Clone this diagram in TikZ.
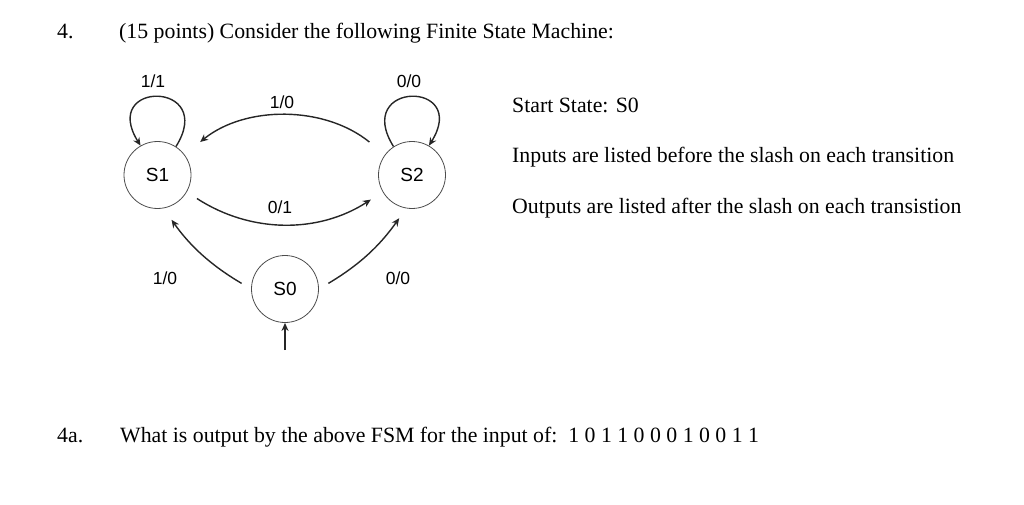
\documentclass[tikz,border=0pt]{standalone}
\usepackage{fontspec}
\setmainfont{Liberation Serif}
\setsansfont{Liberation Sans}
\usetikzlibrary{arrows.meta}
\tikzset{
  fsmstate/.style={draw=black!70, circle, minimum size=67pt, inner sep=0pt, line width=0.8pt,
    font=\sffamily\fontsize{19}{19}\selectfont},
  trans/.style={-{Stealth[length=8pt,width=7pt]}, line width=1.4pt, black!85},
  lbl/.style={inner sep=0pt, font=\sffamily\fontsize{17.5}{17.5}\selectfont},
  txt/.style={anchor=base west, inner sep=0pt, font=\fontsize{21.8}{21.8}\selectfont}
}
\begin{document}
\begin{tikzpicture}[x=1pt,y=-1pt]
                \useasboundingbox (0,0) rectangle (1024,505) ;
                \draw (57,38.3) node[txt] (num) {4.} ;
                \draw (119,38.3) node[txt] (task) {(15 points) Consider the following Finite State Machine:} ;
                \draw (512,112.7) node[txt] (start) {Start State: S0} ;
                \draw (512,162.7) node[txt] (inputs) {Inputs are listed before the slash on each transition} ;
                \draw (512,213) node[txt] (outputs) {Outputs are listed after the slash on each transistion} ;
                \draw (57,442.7) node[txt] (numa) {4a.} ;
                \draw (120,442.7) node[txt] (quest) {What is output by the above FSM for the input of:\ \ 1 0 1 1 0 0 0 1 0 0 1 1} ;
                \node[fsmstate] (s1) at (157.5,175) {S1} ;
                \node[fsmstate] (s2) at (412,175) {S2} ;
                \node[fsmstate] (s0) at (285,289) {S0} ;
                \coordinate (init) at (285,350) ;
                \draw[trans] (s1.57) to[out=58,in=122,looseness=5.6,shorten <=11pt,shorten >=7pt] (s1.120) ;
                \draw[trans] (s2.123) to[out=122,in=58,looseness=5.6,shorten <=11pt,shorten >=7pt] (s2.60) ;
                \draw[trans,shorten <=20pt,shorten >=20pt] (s2.143) to[bend right=39] (s1.37) ;
                \draw[trans,shorten <=12pt,shorten >=14pt] (s1.-30) to[bend right=33] (s2.210) ;
                \draw[trans,shorten <=11pt,shorten >=14pt] (s0.180) to[bend left=12] (s1.280) ;
                \draw[trans,shorten <=11pt,shorten >=12pt] (s0.0) to[bend right=12] (s2.260) ;
                \draw[trans] (init) -- (s0.south) ;
                \draw (153,81) node[lbl] (l11) {1/1} ;
                \draw (409,81) node[lbl] (l00a) {0/0} ;
                \draw (282,102) node[lbl] (l10a) {1/0} ;
                \draw (280,207) node[lbl] (l01) {0/1} ;
                \draw (165,278) node[lbl] (l10b) {1/0} ;
                \draw (398,278) node[lbl] (l00b) {0/0} ;
            \end{tikzpicture}
\end{document}
